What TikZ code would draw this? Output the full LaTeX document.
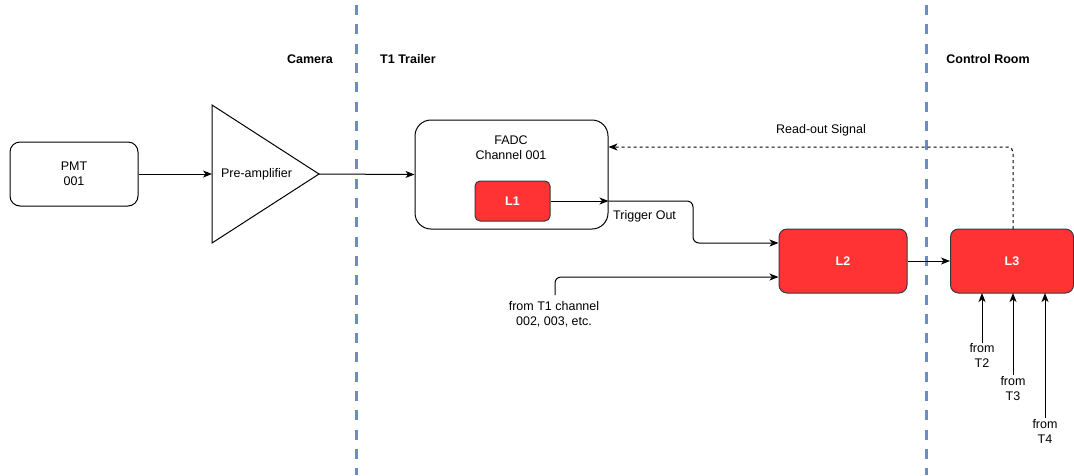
\documentclass[tikz,border=0pt]{standalone}
\usepackage{fontspec}
\setmainfont{Liberation Sans}
\usetikzlibrary{arrows.meta}
\definecolor{zoneblue}{HTML}{6C8EBF}
\definecolor{trigred}{HTML}{FF3333}
\definecolor{edgegrey}{HTML}{36393D}

\begin{document}
\begin{tikzpicture}[x=1pt,y=-1pt,
  font=\fontsize{12.5}{15}\selectfont,
  box/.style={draw=black, line width=1pt, align=center, inner sep=0pt},
  redbox/.style={draw=edgegrey, fill=trigred, line width=1pt, inner sep=0pt,
    text=white, font=\fontsize{12.5}{15}\selectfont\bfseries},
  zone/.style={draw=zoneblue, line width=3pt, dash pattern=on 10pt off 9.3pt, dash phase=14.3pt},
  zonetitle/.style={font=\fontsize{12.5}{15}\selectfont\bfseries},
  arr/.style={draw=black, line width=1pt, -{Stealth[length=9pt,width=7pt,inset=2.5pt]}},
  readout/.style={arr, dash pattern=on 3pt off 3pt},
  plain/.style={align=center, inner sep=0pt},
]
\useasboundingbox (0,0) rectangle (1074,475);

% zone separators
\coordinate (z1top) at (356,0);
\coordinate (z1bot) at (356,475);
\coordinate (z2top) at (926,0);
\coordinate (z2bot) at (926,475);
\draw[zone] (z1top) -- (z1bot);
\draw[zone] (z2top) -- (z2bot);

\node[zonetitle] (camera) at (310,59) {Camera};
\node[zonetitle] (trailer) at (408,59) {T1 Trailer};
\node[zonetitle] (control) at (988,59) {Control Room};

% PMT
\node[box, rounded corners=10pt, minimum width=128pt, minimum height=64pt]
  (pmt) at (74,174) {PMT\\001};

% pre-amplifier triangle
\coordinate (ampin) at (212,174);
\coordinate (amptop) at (212,105);
\coordinate (ampbot) at (212,243);
\coordinate (ampout) at (319,174);
\draw[line width=1pt, line join=miter] (amptop) -- (ampout) -- (ampbot) -- cycle;
\node[plain] (amp) at (256.5,174) {Pre-amplifier};

% FADC with L1
\node[box, rounded corners=16pt, minimum width=193pt, minimum height=109pt]
  (fadc) at (511.5,174.5) {};
\node[plain] (fadctxt) at (511,148) {FADC\\Channel 001};
\node[redbox, rounded corners=5pt, minimum width=75pt, minimum height=40pt]
  (l1) at (512.5,201) {L1};

% L2 and L3
\node[redbox, rounded corners=8pt, minimum width=128pt, minimum height=64pt]
  (l2) at (843,261) {L2};
\node[redbox, rounded corners=8pt, minimum width=123pt, minimum height=64pt]
  (l3) at (1012,261) {L3};

% signal chain
\draw[arr] (pmt.east) -- (ampin);
\draw[arr] (ampout) -- (fadc.west);

\coordinate (trig) at (fadc.east |- l1.east);
\coordinate (trigbendA) at (693,201);
\coordinate (trigbendB) at (693,243);
\coordinate (l2inA) at (l2.west |- trigbendB);
\draw[arr] (l1.east) -- (trig);
\draw[arr, rounded corners=6pt] (trig) -- (trigbendA) -- (trigbendB) -- (l2inA);
\node[plain, anchor=west] (trigtxt) at (613,216) {Trigger Out};

\coordinate (otherstart) at (555,295);
\coordinate (otherbend) at (555,277);
\coordinate (l2inB) at (l2.west |- otherbend);
\draw[arr, rounded corners=6pt] (otherstart) -- (otherbend) -- (l2inB);
\node[plain] (othertxt) at (554,314) {from T1 channel\\002, 003, etc.};

\draw[arr] (l2.east) -- (l3.west);

% read-out path back to the FADC
\coordinate (rocorner) at (1013,147);
\coordinate (fadcin) at (fadc.east |- rocorner);
\coordinate (l3top) at (1013,229);
\draw[readout, rounded corners=5pt] (l3top) -- (rocorner) -- (fadcin);
\node[plain] (rotxt) at (821,130) {Read-out Signal};

% inputs from other telescopes
\coordinate (t2start) at (982,343);
\coordinate (t2end) at (982,293);
\coordinate (t3start) at (1013,375);
\coordinate (t3end) at (1013,293);
\coordinate (t4start) at (1045,418);
\coordinate (t4end) at (1045,293);
\draw[arr] (t2start) -- (t2end);
\draw[arr] (t3start) -- (t3end);
\draw[arr] (t4start) -- (t4end);
\node[plain] (t2txt) at (982,355.5) {from\\T2};
\node[plain] (t3txt) at (1013,388.5) {from\\T3};
\node[plain] (t4txt) at (1045,431.5) {from\\T4};
\end{tikzpicture}
\end{document}
